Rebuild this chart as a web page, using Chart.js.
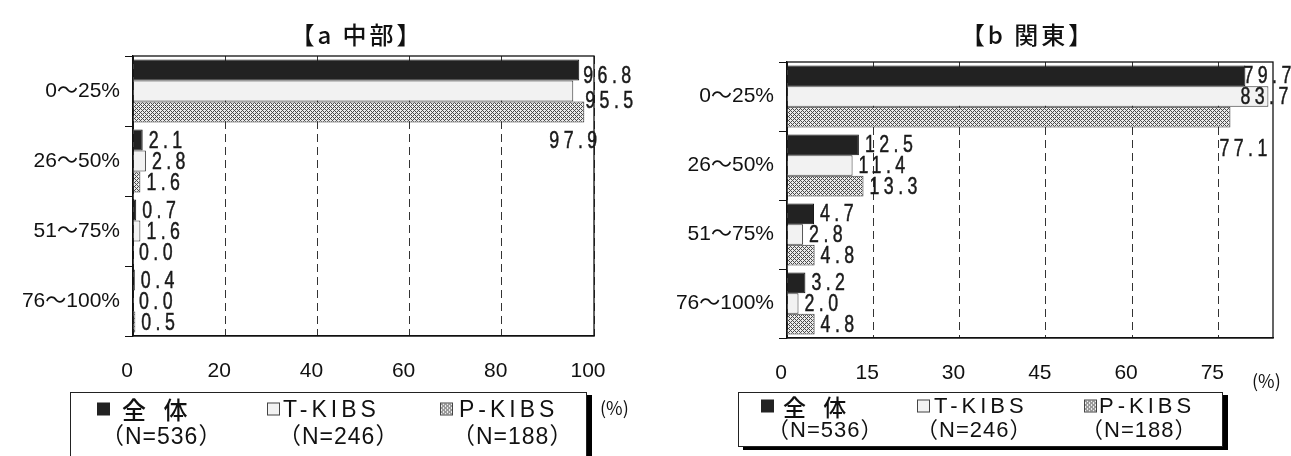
<!DOCTYPE html>
<html><head><meta charset="utf-8">
<script src="https://cdn.jsdelivr.net/npm/chart.js@4.4.0/dist/chart.umd.min.js"></script>
<style>
body{margin:0;background:#fff;width:1291px;height:456px;overflow:hidden;position:relative;font-family:"Liberation Sans","Noto Sans CJK JP",sans-serif;color:#111;}
canvas.cv{position:absolute;top:0;}
.title{position:absolute;top:16px;font-family:"Noto Sans CJK JP",sans-serif;font-size:24px;font-weight:500;letter-spacing:3px;transform:translateX(-50%);white-space:nowrap;color:#111;}
.legend{position:absolute;border:1px solid #222;box-shadow:5px 3px 0 #000;background:#fff;}
.txt{position:absolute;white-space:nowrap;line-height:1;transform:translateY(-50%);}
.icon{position:absolute;width:13px;height:13px;box-sizing:border-box;transform:translateY(-50%);}
.pct{position:absolute;font-size:18px;white-space:nowrap;font-family:"Noto Sans CJK JP",sans-serif;}
</style></head>
<body>
<canvas id="c1" class="cv" width="660" height="456" style="left:0;width:660px;height:456px"></canvas>
<canvas id="c2" class="cv" width="631" height="456" style="left:660px;width:631px;height:456px"></canvas>
<div class="title" style="left:357px">【a 中部】</div>
<div class="title" style="left:1028px">【b 関東】</div>
<div class="legend" style="left:70px;top:392px;width:515px;height:80px"></div>
<div class="legend" style="left:738px;top:392px;width:483px;height:53px"></div>
<div class="pct" style="left:600px;top:394px">(%)</div>
<div class="pct" style="left:1252px;top:367px">(%)</div>
<div id="leg"></div>
<script>
const categories = ['0～25%','26～50%','51～75%','76～100%'];
const seriesNames = ['全 体','T-KIBS','P-KIBS'];
const seriesN = [536,246,188];
const chubuAll = [96.8,2.1,0.7,0.4];
const chubuT   = [95.5,2.8,1.6,0.0];
const chubuP   = [97.9,1.6,0.0,0.5];
const kantoAll = [79.7,12.5,4.7,3.2];
const kantoT   = [83.7,11.4,2.8,2.0];
const kantoP   = [77.1,13.3,4.8,4.8];
const chubuTicks = [0,20,40,60,80,100];
const kantoTicks = [0,15,30,45,60,75];

function makePatternCanvas(){
  const c=document.createElement('canvas'); c.width=4; c.height=4;
  const x=c.getContext('2d'); x.fillStyle='#ececec'; x.fillRect(0,0,4,4);
  x.fillStyle='#4a4a4a';
  [[0,0],[1,1],[2,2],[3,3],[1,3],[3,1]].forEach(([a,b])=>x.fillRect(a,b,1,1));
  return c;
}
const patCanvas = makePatternCanvas();
const patURL = patCanvas.toDataURL();

const fills = ['#222222','#f2f2f2',null];
const borders = ['#111111','#333333','#333333'];

function buildLegend(nameX, nX, row1Y, row2Y, fs){
  const leg=document.getElementById('leg');
  seriesNames.forEach((nm,i)=>{
    const ic=document.createElement('div'); ic.className='icon';
    ic.style.left=(nameX[i][0])+'px'; ic.style.top=row1Y+'px';
    if(i===2){ic.style.backgroundImage='url('+patURL+')';ic.style.border='1px solid #444';}
    else if(i===1){ic.style.background=fills[1];ic.style.border='1px solid #444';}
    else {ic.style.background=fills[0];}
    leg.appendChild(ic);
    const t=document.createElement('div'); t.className='txt';
    t.textContent=nm; t.style.left=nameX[i][1]+'px'; t.style.top=row1Y+'px';
    if(i===0){t.style.fontFamily='"Noto Sans CJK JP"';t.style.fontSize=(fs+1)+'px';t.style.fontWeight='500';t.style.letterSpacing='6px';}
    else {t.style.fontSize=fs+'px';t.style.letterSpacing='4px';}
    leg.appendChild(t);
    const n=document.createElement('div'); n.className='txt';
    n.textContent='（N='+seriesN[i]+'）'; n.style.left=nX[i]+'px'; n.style.top=row2Y+'px';
    n.style.fontSize=fs+'px'; n.style.letterSpacing='1px';
    leg.appendChild(n);
  });
}
buildLegend([[97,122],[267,283],[440,459]],[101,278,452],409,436,23);
buildLegend([[761,783],[917,934],[1084,1099]],[767,916,1081],406,430,22);

function framePlugin(nudges){
  return {
    id:'frameLabels',
    afterDatasetsDraw(chart){
      const ctx=chart.ctx, a=chart.chartArea;
      ctx.save();
      ctx.strokeStyle='#111'; ctx.lineWidth=1.3; ctx.setLineDash([]);
      ctx.strokeRect(a.left,a.top,a.right-a.left,a.bottom-a.top);
      ctx.fillStyle='#1a1a1a'; ctx.strokeStyle='#1a1a1a'; ctx.lineWidth=0.5;
      ctx.font='24px "Liberation Sans",sans-serif';
      if('letterSpacing' in ctx) ctx.letterSpacing='6px';
      ctx.textAlign='left'; ctx.textBaseline='middle';
      chart.data.datasets.forEach((ds,di)=>{
        const meta=chart.getDatasetMeta(di);
        meta.data.forEach((bar,i)=>{
          const n=nudges[di+'-'+i]||[0,0];
          const s=ds.data[i].toFixed(1);
          ctx.save();
          ctx.translate(bar.x+6+n[0], bar.y+1+n[1]);
          ctx.scale(0.74,1);
          ctx.fillText(s,0,0);
          ctx.strokeText(s,0,0);
          ctx.restore();
        });
      });
      ctx.restore();
    }
  };
}

function makeChart(id, data, max, ticks, plot, nudges){
  const W=document.getElementById(id).width;
  const ctx=document.getElementById(id).getContext('2d');
  const pattern=ctx.createPattern(patCanvas,'repeat');
  return new Chart(ctx,{
    type:'bar',
    data:{labels:categories,datasets:data.map((d,i)=>({
      label:seriesNames[i], data:d,
      backgroundColor:i===2?pattern:fills[i],
      borderColor:borders[i], borderWidth:1,
      categoryPercentage:0.9, barPercentage:1.0
    }))},
    options:{
      indexAxis:'y', responsive:false, animation:false,
      layout:{padding:{left:0,top:plot.top,right:W-plot.right,bottom:456-plot.bottom-50}},
      plugins:{legend:{display:false},tooltip:{enabled:false},title:{display:false}},
      scales:{
        x:{
          min:0,max:max,
          afterBuildTicks:(ax)=>{ax.ticks=ticks.map(v=>({value:v}));},
          afterFit:(s)=>{s.height=50;},
          grid:{color:'#333',lineWidth:1,drawTicks:false},
          border:{display:true,color:'#111',width:1.3,dash:[8,5]},
          ticks:{color:'#111',padding:23,labelOffset:-6,
                 font:{family:'"Liberation Sans"',size:21}}
        },
        y:{
          afterFit:(s)=>{s.width=plot.left;},
          grid:{drawOnChartArea:false,drawTicks:true,tickLength:8,tickColor:'#111',offset:true},
          border:{display:true,color:'#111',width:1.3},
          ticks:{color:'#111',padding:5,
                 font:{family:'"Liberation Sans","Noto Sans CJK JP"',size:21}}
        }
      }
    },
    plugins:[framePlugin(nudges)]
  });
}

makeChart('c1',[chubuAll,chubuT,chubuP],100,chubuTicks,{left:133,right:594,top:56,bottom:336},
  {'0-0':[-2,5],'1-0':[6,9],'2-0':[-41,28]});
makeChart('c2',[kantoAll,kantoT,kantoP],84.5,kantoTicks,{left:127,right:613,top:62,bottom:338},
  {'0-0':[-8,0],'1-0':[-34,0],'2-0':[-17,31]});
</script>
</body></html>
